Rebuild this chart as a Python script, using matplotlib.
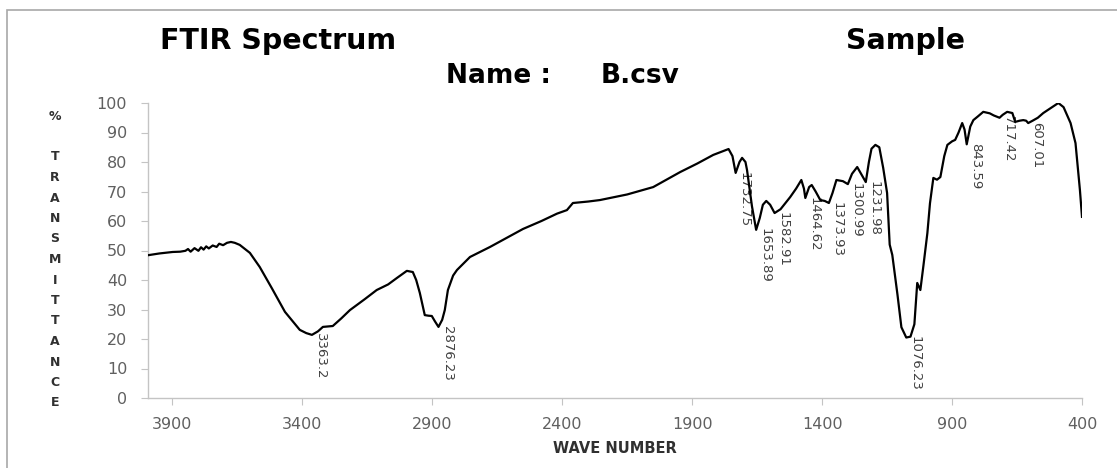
"""
FTIR transmittance spectrum for sample B.csv with peak annotations.
Output: out.png
"""
import matplotlib
matplotlib.use("Agg")
import matplotlib.pyplot as plt
from matplotlib.patches import Rectangle
import numpy as np

# wavenumber (cm-1), descending, and % transmittance
wavenumber = [
    3994, 3950, 3899, 3870, 3850, 3840, 3830, 3815, 3800, 3790, 3780, 3770,
    3760, 3745, 3730, 3720, 3705, 3690, 3675, 3660, 3641, 3602, 3564, 3518,
    3467, 3410, 3385, 3363.2, 3340, 3321, 3283, 3250, 3217, 3160, 3114, 3070,
    3036, 2998, 2975, 2962, 2948, 2929, 2915, 2902, 2890, 2876.23, 2862, 2852,
    2840, 2820, 2805, 2755, 2678, 2620, 2551, 2480, 2420, 2382, 2359, 2300,
    2255, 2150, 2050, 1946, 1880, 1819, 1760, 1745, 1732.75, 1718, 1708, 1695,
    1689, 1670, 1653.89, 1640, 1628, 1615, 1600, 1582.91, 1560, 1523, 1500,
    1480, 1470, 1464.62, 1450, 1440, 1425, 1407, 1390, 1373.93, 1360, 1345,
    1320, 1300.99, 1285, 1265, 1250, 1231.98, 1220, 1210, 1195, 1180, 1165,
    1150, 1140, 1130, 1110, 1095, 1076.23, 1060, 1045, 1034, 1022, 1010, 995,
    985, 972, 958, 945, 930, 918, 900, 888, 875, 861, 852, 843.59, 830, 818,
    800, 780, 755, 740, 726, 717.42, 705, 688, 668, 657, 640, 626, 615, 607.01,
    590, 570, 549, 520, 491, 471, 444, 425, 414, 408, 400,
]
transmittance = [
    48.4, 49.0, 49.5, 49.6, 49.9, 50.5, 49.6, 50.8, 49.9, 51.1, 50.3, 51.4,
    50.7, 51.7, 51.2, 52.3, 51.8, 52.6, 52.9, 52.6, 51.9, 49.2, 44.4, 37.3,
    29.2, 23.1, 22.0, 21.4, 22.6, 24.1, 24.4, 27.0, 29.8, 33.5, 36.6, 38.5,
    40.7, 43.1, 42.7, 40.0, 35.6, 28.1, 27.9, 27.8, 26.0, 24.1, 26.5, 29.8,
    36.6, 41.5, 43.4, 47.8, 51.2, 54.0, 57.3, 60.0, 62.5, 63.7, 66.1, 66.6,
    67.1, 69.0, 71.5, 76.6, 79.5, 82.4, 84.4, 82.0, 76.3, 80.0, 81.4, 80.0,
    77.3, 65.0, 57.0, 61.0, 65.5, 66.8, 65.5, 62.7, 64.0, 68.1, 71.0,
    73.9, 71.0, 67.8, 71.5, 72.2, 70.0, 67.1, 66.8, 66.1, 69.5, 73.9,
    73.5, 72.5, 76.0, 78.3, 76.0, 73.2, 80.0, 84.5, 85.8, 85.0, 78.0,
    69.5, 52.0, 48.5, 35.0, 24.0, 20.5, 20.8, 25.0, 39.0, 36.6, 45.0, 55.9,
    66.0, 74.6, 74.0, 74.9, 82.0, 85.8, 87.0, 87.5, 90.0, 93.2, 91.0, 86.0, 92.0, 94.2,
    95.5, 97.0, 96.5, 95.8, 95.3, 95.0, 96.0, 97.0, 96.6, 93.6, 94.0, 94.2, 94.0, 93.2,
    94.0, 95.0, 96.6, 98.3, 100.0, 98.6, 93.2, 86.4, 76.3, 70.5, 61.4,
]

peak_labels = [3363.2, 2876.23, 1732.75, 1653.89, 1582.91, 1464.62, 1373.93,
               1300.99, 1231.98, 1076.23, 843.59, 717.42, 607.01]

x_ticks = [3900, 3400, 2900, 2400, 1900, 1400, 900, 400]
y_ticks = [0, 10, 20, 30, 40, 50, 60, 70, 80, 90, 100]
y_title = "%  TRANSMITTANCE"

W, H = 1117, 468
fig = plt.figure(figsize=(W / 100, H / 100), dpi=100)
plt.rcParams["font.family"] = ["DejaVu Sans"]

# chart-area frame
fig.add_artist(Rectangle((7 / W, -0.1), 1.2, 1.1 - 10 / H, transform=fig.transFigure,
                         fill=False, edgecolor="#a8a8a8", lw=1.2))

ax = fig.add_axes([148 / W, 70 / H, (1082 - 148) / W, (398 - 103) / H])
ax.plot(wavenumber, transmittance, color="black", lw=1.6, zorder=3)
ax.set_xlim(3994, 400)
ax.set_ylim(0, 100)
ax.set_xticks(x_ticks)
ax.set_yticks(y_ticks)

for side in ("top", "right"):
    ax.spines[side].set_visible(False)
for side in ("left", "bottom"):
    ax.spines[side].set_color("#c4c4c4")
    ax.spines[side].set_linewidth(1.0)
ax.tick_params(axis="both", direction="out", length=5, color="#c4c4c4",
               labelcolor="#606060", labelsize=11.5)
ax.tick_params(axis="y", pad=10)
ax.tick_params(axis="x", pad=9)

# peak position labels, rotated, hanging to the right of each minimum
wn_asc = np.array(wavenumber)[::-1]
t_asc = np.array(transmittance)[::-1]
for wn in peak_labels:
    t = np.interp(wn, wn_asc, t_asc)
    ax.annotate(f"{wn:g}", xy=(wn, t), xytext=(1.5, 1), textcoords="offset points",
                rotation=270, ha="left", va="top", fontsize=9.5, color="#404040",
                family=["Liberation Sans Narrow", "DejaVu Sans"], zorder=2)

# titles
fig.text(160 / W, 1 - 49 / H, "FTIR Spectrum", fontsize=20.5, fontweight="bold",
         ha="left", va="baseline")
fig.text(846 / W, 1 - 49 / H, "Sample", fontsize=20.5, fontweight="bold",
         ha="left", va="baseline")
fig.text(446 / W, 1 - 83 / H, "Name :", fontsize=19, fontweight="bold",
         ha="left", va="baseline")
fig.text(601 / W, 1 - 83 / H, "B.csv", fontsize=19, fontweight="bold",
         ha="left", va="baseline")

# stacked vertical y-axis title
for i, ch in enumerate(y_title):
    if ch == " ":
        continue
    yy = 117 if i == 0 else 157 + (i - 3) * 20.5
    fig.text(55 / W, 1 - yy / H, ch, fontsize=9, fontweight="bold",
             ha="center", va="center", color="#303030")

ax.set_xlabel("WAVE NUMBER", fontsize=10.5, fontweight="bold", color="#303030",
              labelpad=6)

fig.savefig("out.png", dpi=100)
